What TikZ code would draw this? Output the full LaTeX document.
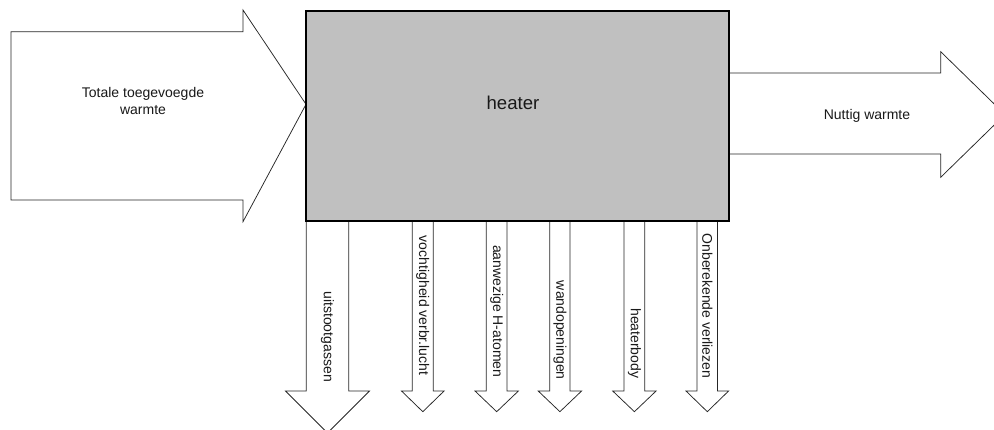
\documentclass[tikz,border=0pt]{standalone}
\usepackage{fontspec}
\setmainfont{Liberation Sans}
\begin{document}
\begin{tikzpicture}[x=1pt,y=-1pt,
  shapeline/.style={draw=black!85, line width=0.75pt, fill=white, line join=miter},
  heaterbox/.style={draw=black, line width=1.3pt, fill=heatgray, inner sep=0pt, minimum width=423pt, minimum height=210pt},
  lbl/.style={inner sep=0pt, font=\fontsize{14}{17}\selectfont, text=black!90},
  vlbl/.style={lbl, rotate=-90, anchor=east},
]
\definecolor{heatgray}{RGB}{192,192,192}
\useasboundingbox (0,0) rectangle (994,430);
\clip (0,0) rectangle (994,430);
% incoming heat arrow
\draw[shapeline] (11,31.7) -- (243,31.7) -- (243,10) -- (306,104.3) -- (243,221.7) -- (243,200) -- (11,200) -- cycle;
\node[lbl, align=center] (tin) at (143,100.5) {Totale toegevoegde\\warmte};
% useful heat arrow
\draw[shapeline] (729,73) -- (940.7,73) -- (940.7,51.7) -- (1005,114.5) -- (940.7,177.3) -- (940.7,154) -- (729,154) -- cycle;
\node[lbl, anchor=base] (tout) at (867,119.5) {Nuttig warmte};
% loss arrows
\foreach \i/\cx/\sw/\hw/\hl/\ey/\txt in {
  1/327.5/21.2/42/42/382/uitstootgassen,
  2/422.8/10.5/21.3/20.7/375.5/vochtigheid verbr.lucht,
  3/496.7/10.4/21.7/20.7/377.5/aanwezige H-atomen,
  4/559.9/10.2/21.7/20.7/380/wandopeningen,
  5/634.4/10.4/21.7/20.7/378.5/heaterbody,
  6/707.3/10.3/21.3/20.7/378.5/Onberekende verliezen}{
  \draw[shapeline] (\cx-\sw,221) -- (\cx-\sw,391) -- (\cx-\hw,391) -- (\cx,391+\hl) -- (\cx+\hw,391) -- (\cx+\sw,391) -- (\cx+\sw,221);
  \node[vlbl] (loss\i) at (\cx,\ey) {\txt};
}
% heater
\node[heaterbox] (box) at (517.5,116) {};
\node[lbl, anchor=base, font=\fontsize{18.6}{22}\selectfont] (heater) at (513,109.3) {heater};
\end{tikzpicture}
\end{document}
